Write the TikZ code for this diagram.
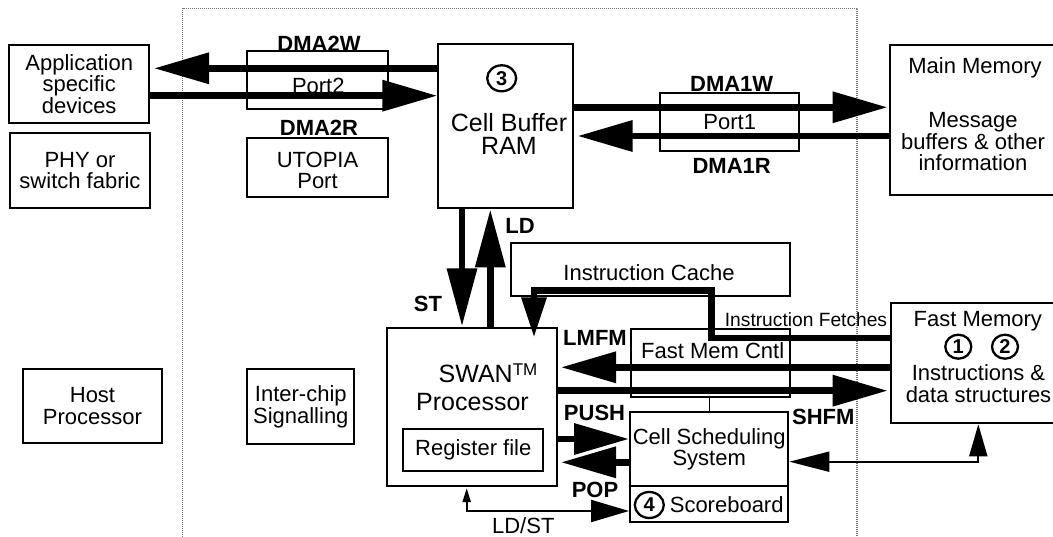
\documentclass[tikz,border=0pt]{standalone}
\usepackage{fontspec}
\setmainfont{Liberation Sans}
\usetikzlibrary{arrows.meta,shapes.geometric}

\begin{document}
\begin{tikzpicture}[x=1pt,y=-1pt,
  box/.style={draw, line width=2pt, inner sep=0pt, font=\fontsize{22}{21.7}\selectfont, align=center},
  txt/.style={font=\fontsize{22}{21.7}\selectfont, align=center, inner sep=0pt},
  bigtxt/.style={font=\fontsize{25}{22.5}\selectfont, align=center, inner sep=0pt},
  lbl/.style={font=\fontsize{22}{21.7}\selectfont\bfseries, inner sep=0pt},
  smalltxt/.style={font=\fontsize{19.2}{19}\selectfont, inner sep=0pt},
  bignum/.style={draw, ellipse, line width=2.3pt, inner sep=0pt, minimum width=29pt, minimum height=26pt, font=\fontsize{20}{20}\selectfont\bfseries},
  smallnum/.style={draw, ellipse, line width=2.3pt, inner sep=0pt, minimum width=26pt, minimum height=24pt, font=\fontsize{20}{20}\selectfont\bfseries},
  bus/.style={line width=6.5pt},
  bigtip/.style={-{Triangle[length=55pt,width=30pt]}},
  vtip/.style={-{Triangle[length=58pt,width=29pt]}},
  fetchtip/.style={-{Triangle[length=40pt,width=24pt]}},
  wire/.style={line width=2pt},
  chipframe/.style={line width=1.3pt, black!55, dash pattern=on 1pt off 1pt}
]
\fill[white] (0,0) rectangle (1053,537);
\useasboundingbox (0,0) rectangle (1053,537);

% chip boundary
\draw[chipframe] (182.7,537) -- (182.7,8.3) -- (857,8.3) -- (857,537);

% external devices
\node[box, minimum width=139.7pt, minimum height=78pt] (app) at (79.2,84) {Application\\specific\\devices};
\node[box, minimum width=140pt, minimum height=75pt] (phy) at (80,170.5) {PHY or\\switch fabric};
\node[box, minimum width=139.6pt, minimum height=74pt] (host) at (92.5,406.3) {Host\\Processor};
\node[box, minimum width=172pt, minimum height=150pt] (mainmem) at (976,120) {};
\node[txt] (mainmemt) at (975,68.3) {Main Memory};
\node[txt] (mainmemd) at (973,141.7) {Message\\buffers \& other\\information};
\node[box, minimum width=175.3pt, minimum height=120.6pt] (fastmem) at (978.3,363) {};
\node[txt] (fastmemt) at (977.8,321.7) {Fast Memory};
\node[smallnum] (n1) at (958.3,346.7) {1};
\node[smallnum] (n2) at (1005,346.7) {2};
\node[txt] (fastmemd) at (978.5,383.3) {Instructions \&\\data structures};

% on-chip blocks
\node[box, minimum width=141pt, minimum height=58pt] (port2) at (317.5,80) {};
\node[txt] (port2t) at (318.3,85.5) {Port2};
\node[box, minimum width=141pt, minimum height=59pt] (utopia) at (317.5,167.5) {};
\node[txt] (utopiat) at (317.5,170.5) {UTOPIA\\Port};
\node[box, minimum width=135pt, minimum height=164pt] (cellbuf) at (505.8,126.3) {};
\node[bignum] (n3) at (501.7,78.3) {3};
\node[bigtxt] (cellbuft) at (509,134) {Cell Buffer\\RAM};
\node[box, minimum width=139.3pt, minimum height=58pt] (port1) at (729.7,121.7) {Port1};
\node[box, minimum width=107pt, minimum height=74.7pt] (interchip) at (300.8,406.7) {Inter-chip\\Signalling};
\node[box, minimum width=279.3pt, minimum height=53pt] (icache) at (650.3,269.2) {};
\node[txt] (icachet) at (649,272.7) {Instruction Cache};
\node[box, minimum width=170pt, minimum height=157.7pt] (swan) at (471.7,407.2) {};
\node[bigtxt] (swant) at (488,373.3) {SWAN\raisebox{7pt}{\fontsize{17}{17}\selectfont TM}};
\node[bigtxt] (swanp) at (472.5,401.7) {Processor};
\node[box, minimum width=140pt, minimum height=41.7pt] (regfile) at (473.3,449.8) {Register file};
\node[box, minimum width=159.3pt, minimum height=68.3pt] (fmcntl) at (710.3,363.2) {};
\node[txt] (fmcntlt) at (712.7,350.7) {Fast Mem Cntl};
\node[box, minimum width=158.3pt, minimum height=73.7pt] (cellsched) at (709.2,449.2) {Cell Scheduling\\System};
\node[box, minimum width=158.3pt, minimum height=35.7pt] (scoreboard) at (709.2,503.8) {};
\node[bignum] (n4) at (649.3,505) {4};
\node[txt] (scoreboardt) at (726.7,505) {Scoreboard};

% bus labels
\node[lbl] (dma2w) at (319,44) {DMA2W};
\node[lbl] (dma2r) at (319,127.7) {DMA2R};
\node[lbl] (dma1w) at (731.7,83.5) {DMA1W};
\node[lbl] (dma1r) at (731.7,166) {DMA1R};
\node[lbl] (ld) at (520,226) {LD};
\node[lbl] (st) at (428,304) {ST};
\node[lbl] (lmfm) at (595,338.3) {LMFM};
\node[lbl] (push) at (594.5,412.7) {PUSH};
\node[lbl] (pop) at (595,490) {POP};
\node[lbl] (shfm) at (823.3,417.3) {SHFM};
\node[smalltxt] (fetch) at (806,320) {Instruction Fetches};
\node[txt] (ldst) at (523.3,525.5) {LD/ST};

% DMA port 2
\draw[bus, bigtip, shorten >=4pt] (cellbuf.west |- 0,68.3) -- (app.east |- 0,68.3);
\draw[bus, bigtip] (app.east |- 0,95.7) -- (cellbuf.west |- 0,95.7);
% DMA port 1
\draw[bus, bigtip, shorten >=1.5pt] (cellbuf.east |- 0,107.3) -- (mainmem.west |- 0,107.3);
\draw[bus, bigtip, shorten >=3.3pt] (mainmem.west |- 0,136) -- (cellbuf.east |- 0,136);
% load / store to the cell buffer
\draw[bus, vtip, shorten >=1pt] (cellbuf.south -| 462,0) -- (swan.north -| 462,0);
\draw[bus, vtip] (swan.north -| 490.3,0) -- (cellbuf.south -| 490.3,0);
% instruction fetch path
\draw[bus, fetchtip, shorten >=-10pt] (fastmem.west |- 0,338) -- (711.7,338) -- (711.7,290.5) -- (534,290.5) -- (swan.north -| 534,0);
% fast memory load / store
\draw[bus, bigtip, shorten >=3.3pt] (fastmem.west |- 0,367.3) -- (swan.east |- 0,367.3);
\draw[bus, bigtip, shorten >=2pt] (swan.east |- 0,390.7) -- (fastmem.west |- 0,390.7);
% push / pop
\draw[bus, bigtip] (swan.east |- 0,439) -- (cellsched.west |- 0,439);
\draw[bus, bigtip, shorten >=3.3pt] (cellsched.west |- 0,462.3) -- (swan.east |- 0,462.3);
% thin links
\draw[line width=1.5pt] (fmcntl.south -| 709.3,0) -- (cellsched.north -| 709.3,0);
\draw[wire, {Triangle[length=40pt,width=20pt]}-{Triangle[length=32pt,width=18pt]}] (cellsched.east |- 0,461.7) -| (fastmem.south -| 978.3,0);
\draw[wire, {Triangle[length=14pt,width=8pt]}-{Triangle[length=38pt,width=22pt]}, shorten <=1pt] (swan.south -| 466.7,0) |- (scoreboard.west |- 0,511);
\end{tikzpicture}
\end{document}
